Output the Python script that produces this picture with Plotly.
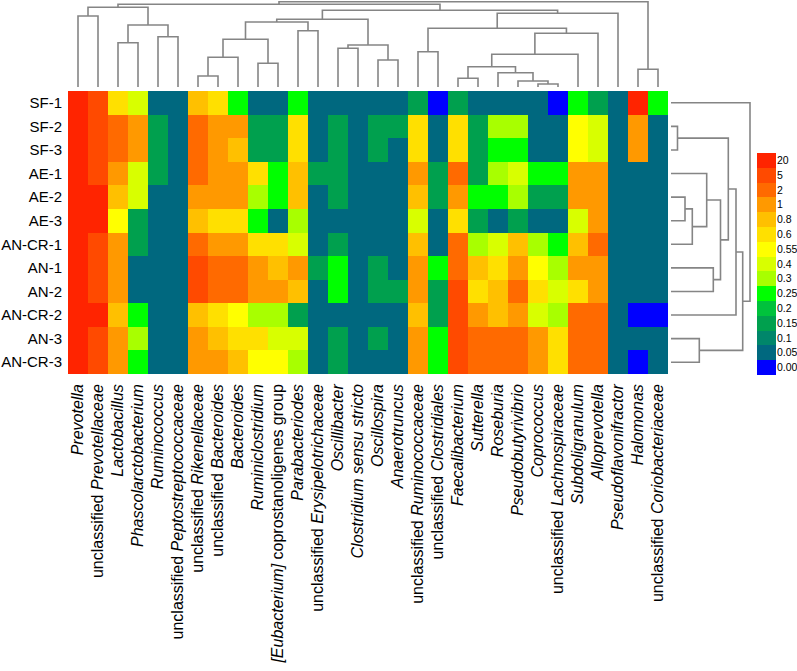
import plotly.graph_objects as go

W, H = 797, 671

samples = ["SF-1", "SF-2", "SF-3", "AE-1", "AE-2", "AE-3",
           "AN-CR-1", "AN-1", "AN-2", "AN-CR-2", "AN-3", "AN-CR-3"]

taxa = [
    "<i>Prevotella</i>", "unclassified <i>Prevotellaceae</i>", "<i>Lactobacillus</i>",
    "<i>Phascolarctobacterium</i>", "<i>Ruminococcus</i>", "unclassified <i>Peptostreptococcaceae</i>",
    "unclassified <i>Rikenellaceae</i>", "unclassified <i>Bacteroides</i>", "<i>Bacteroides</i>",
    "<i>Ruminiclostridium</i>", "<i>[Eubacterium]</i> coprostanoligenes group", "<i>Parabacteriodes</i>",
    "unclassified <i>Erysipelotrichaceae</i>", "<i>Oscillibacter</i>", "<i>Clostridium sensu stricto</i>",
    "<i>Oscillospira</i>", "<i>Anaerotruncus</i>", "unclassified <i>Ruminococcaceae</i>",
    "unclassified <i>Clostridiales</i>", "<i>Faecalibacterium</i>", "<i>Sutterella</i>",
    "<i>Roseburia</i>", "<i>Pseudobutyrivibrio</i>", "<i>Coprococcus</i>",
    "unclassified <i>Lachnospiraceae</i>", "<i>Subdoligranulum</i>", "<i>Alloprevotella</i>",
    "<i>Pseudoflavonifractor</i>", "<i>Halomonas</i>", "unclassified <i>Coriobacteriaceae</i>",
]

# colour-key classes (bottom -> top)
legend_levels = [0.00, 0.05, 0.1, 0.15, 0.2, 0.25, 0.3, 0.4, 0.55, 0.6, 0.8, 1, 2, 5, 20]
legend_labels = ["0.00", "0.05", "0.1", "0.15", "0.2", "0.25", "0.3", "0.4", "0.55",
                 "0.6", "0.8", "1", "2", "5", "20"]
level_colors = ["#0000FF", "#00687F", "#00866A", "#00A04E", "#00C23C", "#00FF00",
                "#A8FF00", "#D8FF00", "#FFFF00", "#FFE000", "#FFC000", "#FF9900",
                "#FF6A00", "#FF4A00", "#FF2400"]

# relative abundance class per sample (columns follow `taxa`)
sf1 = [20, 5, 0.6, 0.4, 0.05, 0.05, 0.8, 0.6, 0.25, 0.05, 0.05, 0.25, 0.05, 0.05, 0.05,
       0.05, 0.05, 0.15, 0, 0.15, 0.05, 0.05, 0.05, 0.05, 0, 0.25, 0.15, 0.05, 20, 0.25]
sf2 = [20, 5, 2, 1, 0.15, 0.05, 2, 1, 1, 0.15, 0.15, 0.6, 0.05, 0.15, 0.05,
       0.15, 0.15, 0.6, 0.05, 0.6, 0.15, 0.3, 0.3, 0.05, 0.05, 0.55, 0.4, 0.05, 1, 0.05]
sf3 = [20, 5, 2, 1, 0.15, 0.05, 2, 1, 0.8, 0.15, 0.15, 0.6, 0.05, 0.15, 0.05,
       0.15, 0.05, 0.6, 0.05, 0.6, 0.15, 0.25, 0.25, 0.05, 0.05, 0.55, 0.4, 0.05, 1, 0.05]
ae1 = [20, 5, 1, 0.4, 0.15, 0.05, 2, 1, 1, 0.6, 0.25, 0.8, 0.15, 0.15, 0.05,
       0.05, 0.05, 1, 0.15, 2, 0.15, 0.3, 0.4, 0.25, 0.25, 1, 1, 0.05, 0.05, 0.05]
ae2 = [20, 20, 0.8, 0.4, 0.05, 0.05, 1, 1, 1, 0.3, 0.25, 0.8, 0.05, 0.15, 0.05,
       0.05, 0.05, 0.8, 0.15, 1, 0.25, 0.25, 0.3, 0.15, 0.15, 1, 1, 0.05, 0.05, 0.05]
ae3 = [20, 20, 0.55, 0.15, 0.05, 0.05, 0.8, 0.6, 0.6, 0.25, 0.05, 0.3, 0.05, 0.05, 0.05,
       0.05, 0.05, 0.4, 0.05, 0.6, 0.15, 0.05, 0.15, 0.05, 0.05, 0.4, 1, 0.05, 0.05, 0.05]
an_cr1 = [20, 5, 1, 0.15, 0.05, 0.05, 2, 1, 1, 0.6, 0.6, 0.4, 0.05, 0.15, 0.05,
          0.05, 0.05, 0.8, 0.05, 2, 0.3, 0.4, 0.8, 0.3, 0.25, 0.8, 2, 0.05, 0.05, 0.05]
an1 = [20, 5, 1, 0.05, 0.05, 0.05, 5, 2, 2, 1, 0.8, 1, 0.15, 0.25, 0.05,
       0.15, 0.05, 1, 0.25, 2, 0.8, 0.6, 1, 0.55, 0.3, 1, 1, 0.05, 0.05, 0.05]
an2 = [20, 5, 1, 0.05, 0.05, 0.05, 5, 2, 2, 1, 1, 0.8, 0.05, 0.25, 0.05,
       0.15, 0.15, 1, 0.15, 5, 0.6, 0.8, 2, 0.6, 0.4, 0.6, 1, 0.05, 0.05, 0.05]
an_cr2 = [20, 20, 0.8, 0.25, 0.05, 0.05, 0.8, 0.6, 0.55, 0.3, 0.3, 0.15, 0.05, 0.05, 0.05,
          0.05, 0.05, 0.8, 0.15, 5, 1, 0.8, 1, 0.4, 0.3, 2, 2, 0.05, 0, 0]
an3 = [20, 5, 1, 0.3, 0.05, 0.05, 1, 0.8, 0.6, 0.6, 0.4, 0.4, 0.05, 0.15, 0.05,
       0.15, 0.05, 1, 0.25, 5, 2, 2, 2, 1, 0.6, 2, 2, 0.05, 0.05, 0.05]
an_cr3 = [20, 5, 1, 0.25, 0.05, 0.05, 1, 1, 0.8, 0.55, 0.55, 0.3, 0.05, 0.15, 0.05,
          0.05, 0.05, 1, 0.25, 5, 2, 2, 2, 1, 0.6, 2, 2, 0.05, 0, 0.05]

rows = [sf1, sf2, sf3, ae1, ae2, ae3, an_cr1, an1, an2, an_cr2, an3, an_cr3]

# column dendrogram: (child_a, child_b, height); leaves 0..29, new nodes numbered from 30
col_merges = [
    (0, 1, 71), (2, 3, 44.3), (4, 5, 50.3), (31, 32, 62), (30, 33, 79.7),
    (6, 7, 11), (35, 8, 29.7), (9, 10, 23.7), (36, 37, 47.7), (11, 12, 56.3),
    (38, 39, 65), (13, 14, 38.7), (15, 16, 27), (41, 42, 42), (40, 43, 67.7),
    (17, 18, 35.3), (19, 20, 8.7), (23, 24, 3), (22, 47, 6), (21, 48, 14.3),
    (46, 49, 20.3), (50, 25, 32.7), (51, 26, 53.7), (45, 52, 58.7), (53, 27, 73.7),
    (44, 54, 76.7), (34, 55, 82.7), (28, 29, 17.7), (56, 57, 85.3),
]
# row dendrogram; leaves 0..11, new nodes numbered from 12
row_merges = [
    (1, 2, 6.5), (4, 5, 14), (13, 6, 21.3), (10, 11, 28.3), (3, 14, 35.7),
    (7, 8, 42.3), (16, 17, 49.5), (12, 18, 57.3), (19, 9, 65), (20, 15, 71.7),
    (0, 21, 79),
]


def dendro(n_leaves, merges):
    pos = {i: float(i) for i in range(n_leaves)}
    hgt = {i: 0.0 for i in range(n_leaves)}
    p, h = [], []
    for k, (a, b, ht) in enumerate(merges):
        p += [pos[a], pos[a], pos[b], pos[b], None]
        h += [hgt[a], ht, ht, hgt[b], None]
        pos[n_leaves + k] = (pos[a] + pos[b]) / 2
        hgt[n_leaves + k] = ht
    return p, h


z = [[legend_levels.index(v) for v in r] for r in rows]
n = len(level_colors)
cscale = []
for i, c in enumerate(level_colors):
    cscale.append([i / n, c])
    cscale.append([(i + 1) / n, c])

FONT = "Arial, Liberation Sans, sans-serif"


def px_x(v):
    return v / W


def px_y(v):
    return 1 - v / H


fig = go.Figure()
fig.add_trace(go.Heatmap(
    z=z, x=list(range(len(taxa))), y=list(range(len(samples))),
    colorscale=cscale, zmin=-0.5, zmax=n - 0.5, showscale=False,
    xaxis="x", yaxis="y", hoverinfo="skip",
))
# colour key drawn as its own one-column heatmap
fig.add_trace(go.Heatmap(
    z=[[i] for i in range(n)], x=[0], y=list(range(n)),
    colorscale=cscale, zmin=-0.5, zmax=n - 0.5, showscale=False,
    xaxis="x4", yaxis="y4", hoverinfo="skip",
))

cp, ch = dendro(len(taxa), col_merges)
fig.add_trace(go.Scatter(x=cp, y=ch, mode="lines", xaxis="x2", yaxis="y2",
                         line=dict(color="#858585", width=1.6), hoverinfo="skip"))
rp, rh = dendro(len(samples), row_merges)
fig.add_trace(go.Scatter(x=rh, y=rp, mode="lines", xaxis="x3", yaxis="y3",
                         line=dict(color="#858585", width=1.6), hoverinfo="skip"))

hm_x = [px_x(68), px_x(668)]
hm_y = [px_y(374), px_y(91)]
hidden = dict(visible=False, fixedrange=True, automargin=False)
fig.update_layout(
    width=W, height=H, margin=dict(l=0, r=0, t=0, b=0),
    paper_bgcolor="white", plot_bgcolor="white", showlegend=False,
    xaxis=dict(domain=hm_x, range=[-0.5, len(taxa) - 0.5], tickmode="array",
               tickvals=list(range(len(taxa))), ticktext=taxa, tickangle=-90,
               ticks="", showgrid=False, zeroline=False, showline=False,
               ticklabelstandoff=6, automargin=False, fixedrange=True,
               tickfont=dict(family=FONT, size=16, color="#000")),
    yaxis=dict(domain=hm_y, range=[len(samples) - 0.5, -0.5], tickmode="array",
               tickvals=list(range(len(samples))), ticktext=samples,
               ticks="", showgrid=False, zeroline=False, showline=False,
               ticklabelstandoff=5, automargin=False, fixedrange=True,
               tickfont=dict(family=FONT, size=15, color="#000")),
    xaxis2=dict(domain=hm_x, range=[-0.5, len(taxa) - 0.5], anchor="y2", **hidden),
    yaxis2=dict(domain=[px_y(87), 1], range=[0, 87], anchor="x2", **hidden),
    xaxis3=dict(domain=[px_x(671), px_x(760)], range=[0, 89], anchor="y3", **hidden),
    yaxis3=dict(domain=hm_y, range=[len(samples) - 0.5, -0.5], anchor="x3", **hidden),
    xaxis4=dict(domain=[px_x(757), px_x(776)], range=[-0.5, 0.5], anchor="y4", **hidden),
    yaxis4=dict(domain=[px_y(375), px_y(153)], range=[-0.5, n - 0.5], anchor="x4",
                side="right", tickmode="array", tickvals=list(range(n)),
                ticktext=legend_labels, ticks="", showgrid=False, zeroline=False,
                showline=False, ticklabelstandoff=0, automargin=False, fixedrange=True,
                tickfont=dict(family=FONT, size=10.5, color="#000")),
)

fig.write_html(
    "out.html",
    config={"displayModeBar": False},
    post_script=(
        "document.documentElement.style.overflow='hidden';"
        "document.body.style.overflow='hidden';"
        "document.body.style.margin='0px';document.body.style.padding='0px';"
    ),
)
